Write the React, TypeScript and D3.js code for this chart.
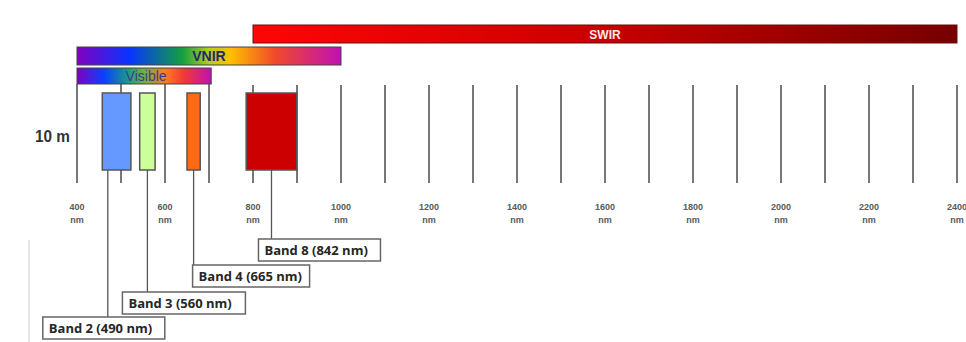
import React from "react";
import * as d3 from "d3";

// ---- data ----
const tickWavelengths = [400, 500, 600, 700, 800, 900, 1000, 1100, 1200, 1300, 1400, 1500, 1600, 1700, 1800, 1900, 2000, 2100, 2200, 2300, 2400];
const labelWavelengths = [400, 600, 800, 1000, 1200, 1400, 1600, 1800, 2000, 2200, 2400];
const regionNames = ["SWIR", "VNIR", "Visible"];
const regionStart = [800, 400, 400];
const regionEnd = [2400, 1000, 705];
const bandNames = ["Band 2", "Band 3", "Band 4", "Band 8"];
const bandCenters = [490, 560, 665, 842];
const bandWidths = [65, 35, 30, 115];
const bandLeaderAt = [470, 560, 665, 842];
const bandColors = ["#6699ff", "#ccff99", "#ff6a14", "#cc0000"];
const resolutionLabel = "10 m";

const W = 966;
const H = 342;

export default function App() {
  const x = d3.scaleLinear().domain([400, 2400]).range([77, 957]);

  const regionY = [25, 47, 68];
  const regionH = [18, 18, 16];
  const regionFill = ["url(#gSwir)", "url(#gVnir)", "url(#gVis)"];
  const regionText = ["#ffe8e8", "#1c2a6e", "#3b3d8f"];

  const boxTop = 93;
  const boxBottom = 170;

  // label layout (offset of label box left from leader, row tops)
  const labelLeftOffset = [-65, -25, -1, -13];
  const labelTop = [317, 292, 265, 239];
  const labelW = [122, 123, 117, 122];
  const labelH = 22;

  return (
    <svg width={W} height={H} style={{ position: "absolute", left: 0, top: 0, background: "#fff" }} fontFamily="'Liberation Sans', Arial, sans-serif">
      <defs>
        <linearGradient id="gSwir" x1="0" x2="1" y1="0" y2="0">
          <stop offset="0" stopColor="#ff0505" />
          <stop offset="0.45" stopColor="#d00000" />
          <stop offset="1" stopColor="#760000" />
        </linearGradient>
        <linearGradient id="gVnir" x1="0" x2="1" y1="0" y2="0">
          <stop offset="0" stopColor="#8000c0" />
          <stop offset="0.2" stopColor="#0834ff" />
          <stop offset="0.4" stopColor="#14a040" />
          <stop offset="0.5" stopColor="#b8cc20" />
          <stop offset="0.58" stopColor="#ffc000" />
          <stop offset="0.75" stopColor="#f04a2a" />
          <stop offset="1" stopColor="#c010b4" />
        </linearGradient>
        <linearGradient id="gVis" x1="0" x2="1" y1="0" y2="0">
          <stop offset="0" stopColor="#8000c0" />
          <stop offset="0.2" stopColor="#0a40ff" />
          <stop offset="0.38" stopColor="#1a9a88" />
          <stop offset="0.5" stopColor="#70b040" />
          <stop offset="0.66" stopColor="#ff7a20" />
          <stop offset="0.8" stopColor="#f03838" />
          <stop offset="1" stopColor="#c010b4" />
        </linearGradient>
      </defs>

      {/* faint left border */}
      <line x1={29} x2={29} y1={240} y2={H} stroke="#dcdcdc" strokeWidth={1.5} />

      {/* tick lines */}
      {tickWavelengths.map((w) => (
        <line key={w} x1={x(w)} x2={x(w)} y1={w <= 700 ? 84 : 85} y2={183} stroke="#555" strokeWidth={1.6} />
      ))}

      {/* tick labels */}
      {labelWavelengths.map((w) => (
        <g key={w} fontSize={9} fontWeight="bold" fill="#5a5a5a" textAnchor="middle">
          <text x={x(w)} y={210}>{w}</text>
          <text x={x(w)} y={223}>nm</text>
        </g>
      ))}

      {/* region bars */}
      {regionNames.map((n, i) => (
        <g key={n}>
          <rect x={x(regionStart[i])} y={regionY[i]} width={x(regionEnd[i]) - x(regionStart[i])} height={regionH[i]} fill={regionFill[i]} stroke={i === 0 ? "#6a1010" : "#444"} strokeWidth={1} />
          <text
            x={(x(regionStart[i]) + x(regionEnd[i])) / 2 + (i === 2 ? 2 : 0)}
            y={regionY[i] + regionH[i] / 2 + 5}
            textAnchor="middle"
            fontSize={i === 0 ? 12 : 14}
            fontWeight={i === 2 ? "normal" : "bold"}
            fill={regionText[i]}
          >
            {n}
          </text>
        </g>
      ))}

      {/* resolution label */}
      <text x={35} y={142} fontSize={16} fontWeight="bold" fill="#333" textLength={35} lengthAdjust="spacingAndGlyphs">{resolutionLabel}</text>

      {/* leaders */}
      {bandNames.map((n, i) => (
        <line key={n} x1={x(bandLeaderAt[i])} x2={x(bandLeaderAt[i])} y1={boxBottom} y2={labelTop[i]} stroke="#555" strokeWidth={1.3} />
      ))}

      {/* band boxes */}
      {bandNames.map((n, i) => {
        const x0 = x(bandCenters[i] - bandWidths[i] / 2);
        const x1 = x(bandCenters[i] + bandWidths[i] / 2);
        return <rect key={n} x={x0} y={boxTop} width={x1 - x0} height={boxBottom - boxTop} fill={bandColors[i]} stroke="#555" strokeWidth={1.5} />;
      })}

      {/* band labels */}
      {bandNames.map((n, i) => {
        const lx = x(bandLeaderAt[i]) + labelLeftOffset[i];
        return (
          <g key={n}>
            <rect x={lx} y={labelTop[i]} width={labelW[i]} height={labelH} fill="#fff" stroke="#666" strokeWidth={1.5} />
            <text x={lx + 6} y={labelTop[i] + 16} fontFamily="'Open Sans', sans-serif" fontSize={13} fontWeight="bold" fill="#262626">
              {`${n} (${bandCenters[i]} nm)`}
            </text>
          </g>
        );
      })}
    </svg>
  );
}
